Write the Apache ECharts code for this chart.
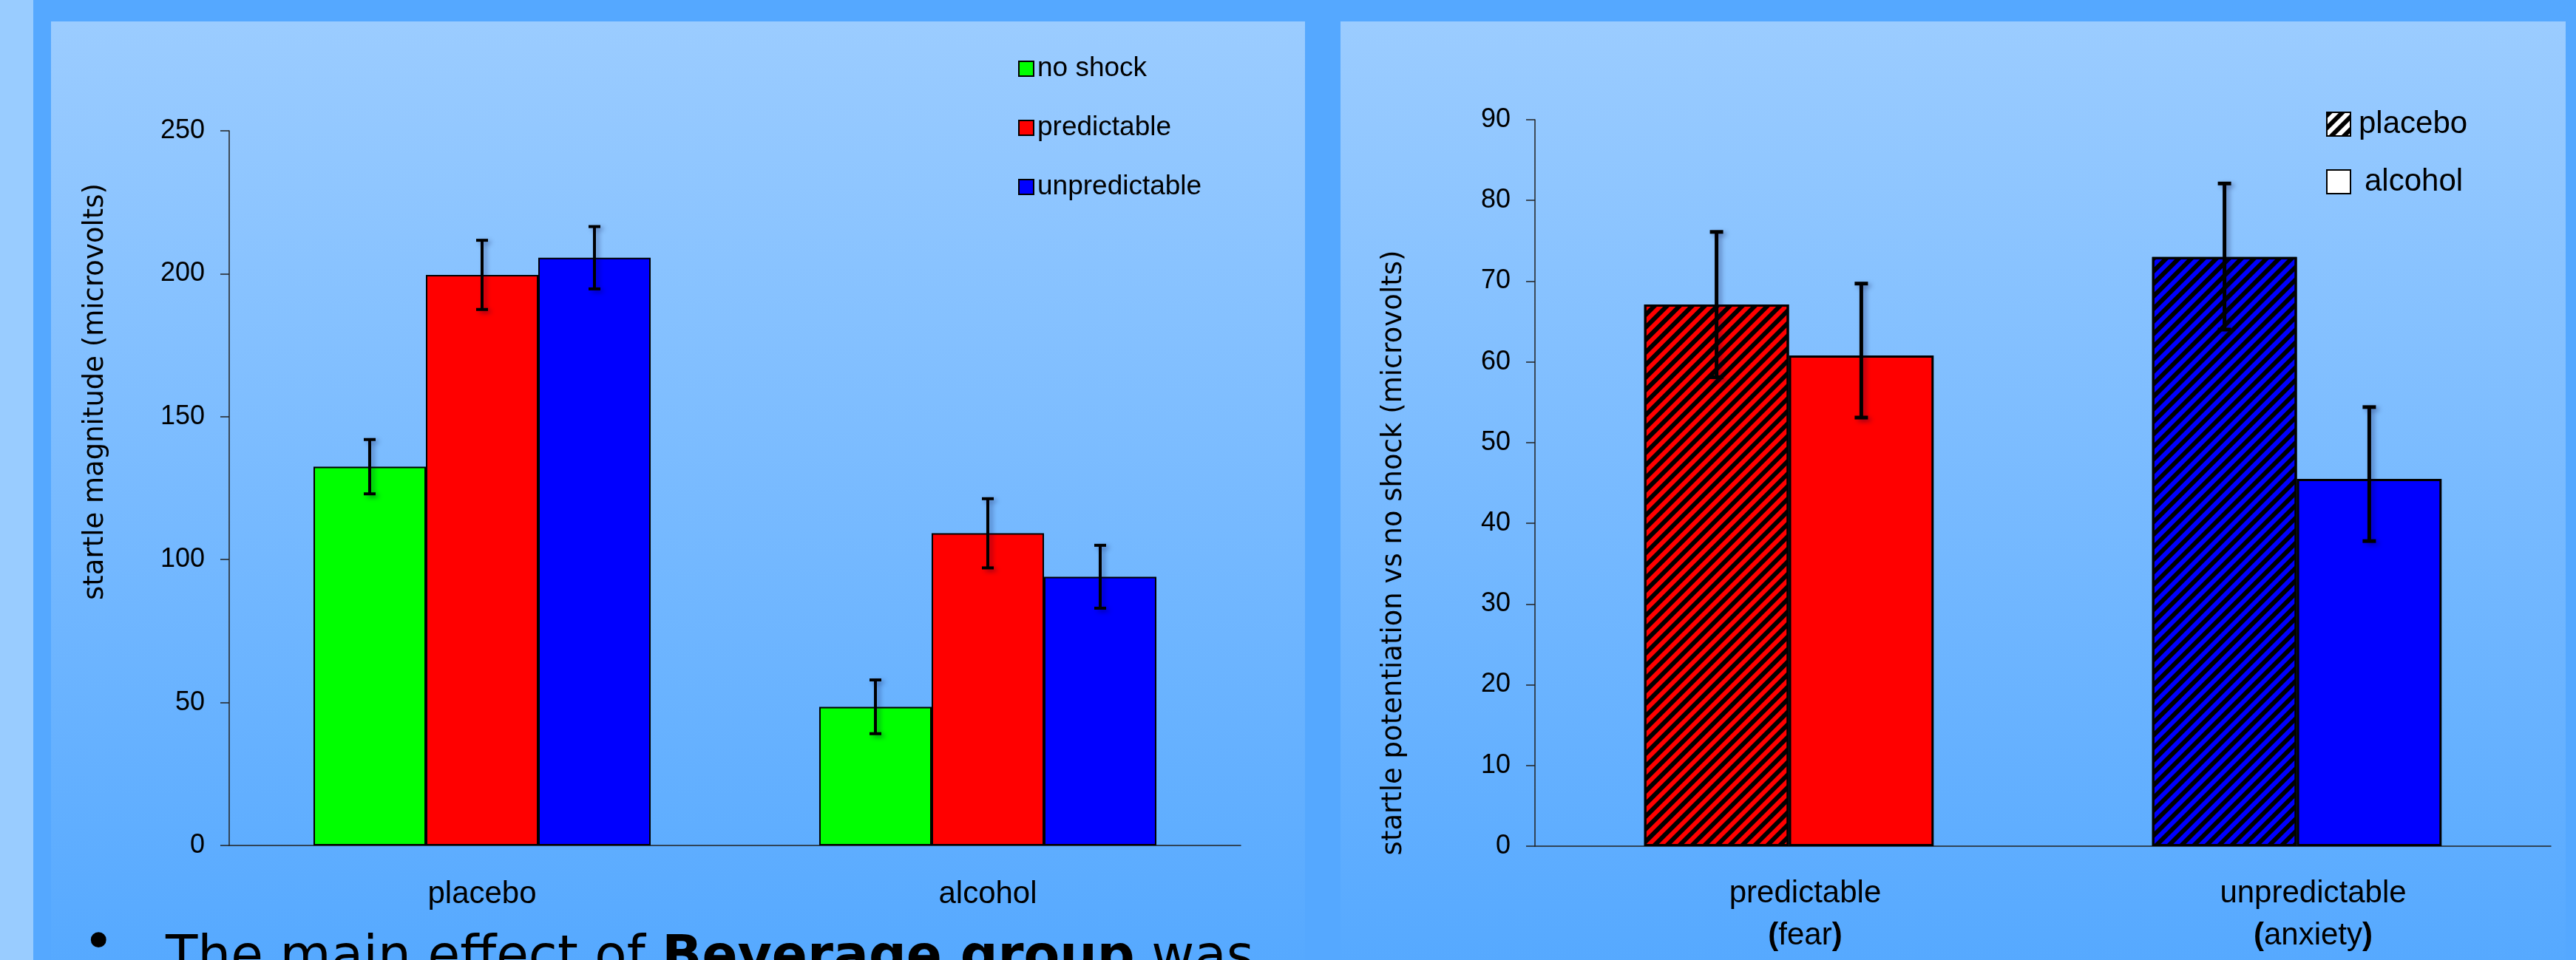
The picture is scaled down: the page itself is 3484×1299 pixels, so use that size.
<!DOCTYPE html>
<html>
<head>
<meta charset="utf-8">
<script src="https://cdn.jsdelivr.net/npm/echarts@6/dist/echarts.min.js"></script>
<style>
html,body{margin:0;padding:0;background:#55a8ff;}
#c{width:3484px;height:1299px;}
</style>
</head>
<body>
<div id="c"></div>
<script>
// ---- data ----
const leftCategories = ['placebo', 'alcohol'];
const leftSeriesNames = ['no shock', 'predictable', 'unpredictable'];
const noShock = [132.5, 48.5];
const predictable = [199.6, 109.2];
const unpredictable = [205.6, 94.0];
const noShockErr = [9.5, 9.4];
const predictableErr = [12.1, 12.1];
const unpredictableErr = [10.9, 11.0];
const leftTickMax = 250, leftTickStep = 50;

const rightCategories = ['predictable', 'unpredictable'];
const rightSubLabels = ['fear', 'anxiety'];
const rightSeriesNames = ['placebo', 'alcohol'];
const placebo = [67.1, 73.0];
const alcohol = [60.8, 45.5];
const placeboErrLow = [58.1, 64.0];
const placeboErrHigh = [76.1, 82.1];
const alcoholErrLow = [53.1, 37.8];
const alcoholErrHigh = [69.7, 54.4];
const rightTickMax = 90, rightTickStep = 10;

const leftColors = ['#00ff00', '#ff0000', '#0000ff'];
const rightCatColors = ['#ff0000', '#0000ff'];

// ---- helpers ----
const TICK_FONT = '"Liberation Sans", Arial, sans-serif';
const TITLE_FONT = '"DejaVu Sans", Verdana, sans-serif';
const hatch = {
  symbol: 'rect', symbolSize: 1, dashArrayX: [1, 0], dashArrayY: [6, 6],
  rotation: -Math.PI / 4, color: '#000'
};

function errRenderer(seriesIdx, nSeries, widthFrac, lw, cap) {
  return function (params, api) {
    const cat = api.value(0), lo = api.value(1), hi = api.value(2);
    const band = api.size([1, 0])[0];
    const bw = band * widthFrac;
    const cx = api.coord([cat, 0])[0] + (seriesIdx - (nSeries - 1) / 2) * bw;
    const top = api.coord([cat, hi])[1];
    const bot = api.coord([cat, lo])[1];
    const st = {stroke: '#000', lineWidth: lw, shadowBlur: 6, shadowColor: 'rgba(0,0,60,0.35)', shadowOffsetX: 4, shadowOffsetY: 3};
    return {
      type: 'group',
      children: [
        {type: 'line', shape: {x1: cx, y1: top, x2: cx, y2: bot}, style: st},
        {type: 'line', shape: {x1: cx - cap, y1: top, x2: cx + cap, y2: top}, style: st},
        {type: 'line', shape: {x1: cx - cap, y1: bot, x2: cx + cap, y2: bot}, style: st}
      ]
    };
  };
}

const leftMeans = [noShock, predictable, unpredictable];
const leftErrs = [noShockErr, predictableErr, unpredictableErr];
const leftGapFrac = 0.3333;
const leftBarFrac = (1 - leftGapFrac) / 3;

const rightMeans = [placebo, alcohol];
const rightLows = [placeboErrLow, alcoholErrLow];
const rightHighs = [placeboErrHigh, alcoholErrHigh];
const rightGapFrac = 0.43;
const rightBarFrac = (1 - rightGapFrac) / 2;

const series = [];
leftSeriesNames.forEach((name, i) => {
  series.push({
    name: name, type: 'bar', xAxisIndex: 0, yAxisIndex: 0,
    data: leftMeans[i],
    barGap: '0%', barCategoryGap: (leftGapFrac * 100) + '%',
    itemStyle: {color: leftColors[i], borderColor: '#000', borderWidth: 2},
    emphasis: {disabled: true}
  });
});
leftSeriesNames.forEach((name, i) => {
  series.push({
    name: 'err-' + name, type: 'custom', xAxisIndex: 0, yAxisIndex: 0, z: 5,
    renderItem: errRenderer(i, 3, leftBarFrac, 4, 8),
    encode: {x: 0, y: [1, 2]},
    data: leftCategories.map((c, k) => [k, leftMeans[i][k] - leftErrs[i][k], leftMeans[i][k] + leftErrs[i][k]])
  });
});
rightSeriesNames.forEach((name, i) => {
  const st = {color: (p) => rightCatColors[p.dataIndex], borderColor: '#000', borderWidth: 3};
  if (i === 0) st.decal = hatch;
  series.push({
    name: name, type: 'bar', xAxisIndex: 1, yAxisIndex: 1,
    data: rightMeans[i],
    barGap: '0%', barCategoryGap: (rightGapFrac * 100) + '%',
    itemStyle: st,
    emphasis: {disabled: true}
  });
});
rightSeriesNames.forEach((name, i) => {
  series.push({
    name: 'err-' + name, type: 'custom', xAxisIndex: 1, yAxisIndex: 1, z: 5,
    renderItem: errRenderer(i, 2, rightBarFrac, 5, 9),
    encode: {x: 0, y: [1, 2]},
    data: rightCategories.map((c, k) => [k, rightLows[i][k], rightHighs[i][k]])
  });
});

const panelFill = {type: 'linear', x: 0, y: 0, x2: 0, y2: 1,
  colorStops: [{offset: 0, color: '#9bccff'}, {offset: 1, color: '#56a9ff'}]};

const axisCommonX = {
  type: 'category', boundaryGap: true,
  axisLine: {lineStyle: {color: '#222', width: 1.5}},
  axisTick: {length: 12, lineStyle: {color: '#222', width: 1.5}},
  splitLine: {show: false}
};
const axisCommonY = {
  type: 'value', min: 0,
  axisLine: {show: true, lineStyle: {color: '#222', width: 1.5}},
  axisTick: {show: true, length: 12, lineStyle: {color: '#222', width: 1.5}},
  axisLabel: {margin: 33, fontSize: 36, fontFamily: TICK_FONT, color: '#000'},
  splitLine: {show: false}
};

const option = {
  backgroundColor: '#55a8ff',
  animation: false,
  graphic: [
    {type: 'rect', z: -10, shape: {x: 0, y: 0, width: 45, height: 1299}, style: {fill: '#99ccff'}},
    {type: 'rect', z: -10, shape: {x: 69, y: 29, width: 1696, height: 1270}, style: {fill: panelFill}},
    {type: 'rect', z: -10, shape: {x: 1813, y: 29, width: 1657, height: 1270}, style: {fill: panelFill}},
    {type: 'text', z: 10, x: 129, y: 530, rotation: Math.PI / 2,
      style: {text: 'startle magnitude (microvolts)', font: '37px ' + TITLE_FONT, fill: '#000',
        textAlign: 'center', textVerticalAlign: 'middle', align: 'center', verticalAlign: 'middle'}},
    {type: 'text', z: 10, x: 1885, y: 748, rotation: Math.PI / 2,
      style: {text: 'startle potentiation vs no shock (microvolts)', font: '37px ' + TITLE_FONT, fill: '#000',
        textAlign: 'center', textVerticalAlign: 'middle', align: 'center', verticalAlign: 'middle'}},
    {type: 'text', z: 10, x: 112, y: 1243,
      style: {text: '•', font: '72px ' + TITLE_FONT, fill: '#000', textAlign: 'left', textVerticalAlign: 'top', align: 'left', verticalAlign: 'top'}},
    {type: 'text', z: 10, x: 224, y: 1262,
      style: {
        text: '{r|The main effect of }{b|Beverage group}{r| was}',
        textAlign: 'left', textVerticalAlign: 'top', align: 'left', verticalAlign: 'top',
        rich: {
          r: {fontSize: 71, fontFamily: TITLE_FONT, fill: '#000', color: '#000'},
          b: {fontSize: 71, fontFamily: TITLE_FONT, fontWeight: 'bold', fill: '#000', color: '#000'}
        }
      }}
  ],
  grid: [
    {left: 310, top: 177, width: 1368, height: 967, containLabel: false},
    {left: 2076, top: 162, width: 1374, height: 983, containLabel: false}
  ],
  legend: [
    {
      data: leftSeriesNames, orient: 'vertical', left: 1372, top: 68,
      icon: 'rect', itemWidth: 20, itemHeight: 20, itemGap: 40, selectedMode: false,
      itemStyle: {borderColor: '#000', borderWidth: 2},
      textStyle: {fontSize: 37, fontFamily: TICK_FONT, color: '#000', lineHeight: 40}
    },
    {
      data: [
        {name: 'placebo', itemStyle: {color: '#ffffff', borderColor: '#000', borderWidth: 2, decal: hatch}},
        {name: 'alcohol', itemStyle: {color: '#ffffff', borderColor: '#000', borderWidth: 2}, textStyle: {padding: [0, 0, 0, 14]}}
      ],
      orient: 'vertical', left: 3141, top: 141,
      icon: 'rect', itemWidth: 32, itemHeight: 32, itemGap: 34, selectedMode: false,
      textStyle: {fontSize: 42, fontFamily: TICK_FONT, color: '#000', lineHeight: 44, padding: [0, 0, 0, 6]}
    }
  ],
  xAxis: [
    Object.assign({}, axisCommonX, {gridIndex: 0, data: leftCategories,
      axisLabel: {margin: 43, fontSize: 42, fontFamily: TICK_FONT, color: '#000', lineHeight: 46}}),
    Object.assign({}, axisCommonX, {gridIndex: 1, data: rightCategories,
      axisLabel: {
        margin: 36, padding: [0, 0, 0, 44],
        formatter: (v, i) => '{a|' + v + '}\n{b|(}{a|' + rightSubLabels[i] + '}{b|)}',
        rich: {
          a: {fontSize: 42, fontFamily: TICK_FONT, color: '#000', lineHeight: 57},
          b: {fontSize: 42, fontFamily: TICK_FONT, color: '#000', lineHeight: 57, fontWeight: 'bold'}
        }
      }})
  ],
  yAxis: [
    Object.assign({}, axisCommonY, {gridIndex: 0, max: leftTickMax, interval: leftTickStep}),
    Object.assign({}, axisCommonY, {gridIndex: 1, max: rightTickMax, interval: rightTickStep})
  ],
  series: series
};

const chart = echarts.init(document.getElementById('c'), null, {renderer: 'canvas'});
chart.setOption(option);
</script>
</body>
</html>
